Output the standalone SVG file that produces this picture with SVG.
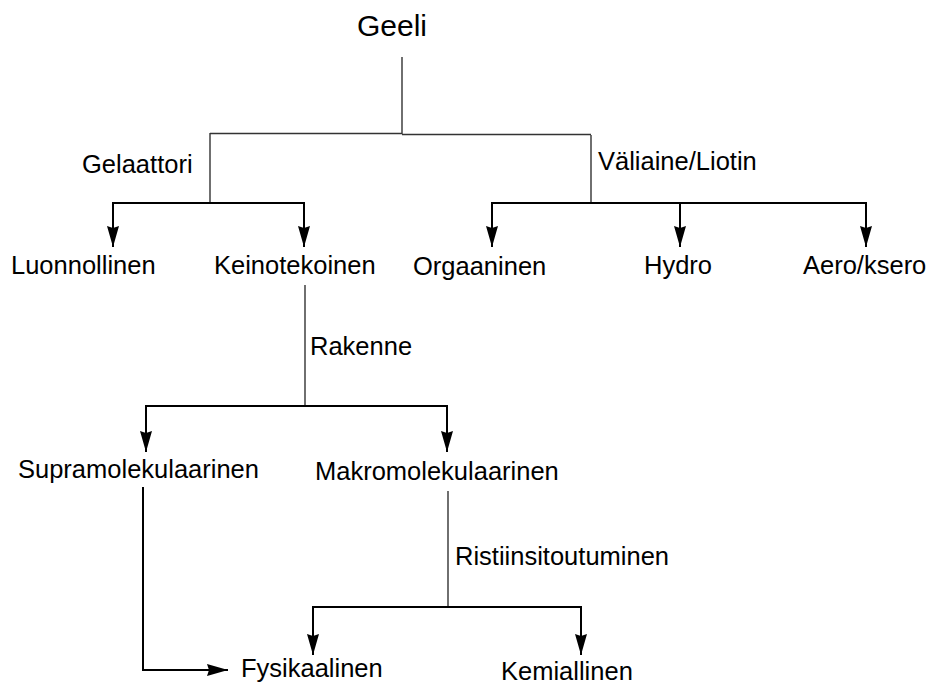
<svg xmlns="http://www.w3.org/2000/svg" width="930" height="687" viewBox="0 0 930 687">
<style>
text { font-family: "Liberation Sans", Arial, sans-serif; font-size: 25.5px; fill: #000; }
.trunk { fill: none; stroke: #333; stroke-width: 1.4; }
.branch { fill: none; stroke: #000; stroke-width: 2; marker-end: url(#arr); }
</style>
<defs>
<marker id="arr" markerUnits="userSpaceOnUse" markerWidth="22" markerHeight="14" refX="21" refY="6" orient="auto">
<path d="M0,0 L21,6 L0,12 L2,6 z" fill="#000"/>
</marker>
</defs>
<rect width="930" height="687" fill="#fff"/>
<g id="connectors">
<path class="trunk" d="M402 57 V134"/>
<path class="trunk" d="M210 133.5 H402"/>
<path class="trunk" d="M402 134.5 H591"/>
<path class="trunk" d="M210 133 V203"/>
<path class="trunk" d="M591 135 V203"/>
<path class="branch" d="M210 203 H113 V247"/>
<path class="branch" d="M210 203 H304 V247"/>
<path class="branch" d="M591 203 H492 V247"/>
<path class="branch" d="M591 203 H680 M680 203 V247"/>
<path class="branch" d="M591 203 H866 V247"/>
<path class="trunk" d="M305 285 V406"/>
<path class="branch" d="M305 406 H146 V452"/>
<path class="branch" d="M305 406 H447 V452"/>
<path class="branch" d="M143 487 V670 H228"/>
<path class="trunk" d="M448 491 V607"/>
<path class="branch" d="M448 607 H313 V655"/>
<path class="branch" d="M448 607 H581 V655"/>
</g>
<g id="edge-labels">
<text x="82" y="173">Gelaattori</text>
<text x="598" y="170">Väliaine/Liotin</text>
<text x="310" y="355">Rakenne</text>
<text x="455" y="565">Ristiinsitoutuminen</text>
</g>
<g id="geeli"><text x="357" y="36" style="font-size:30px">Geeli</text></g>
<g id="luonnollinen"><text x="11" y="274">Luonnollinen</text></g>
<g id="keinotekoinen"><text x="214" y="274">Keinotekoinen</text></g>
<g id="orgaaninen"><text x="413" y="275">Orgaaninen</text></g>
<g id="hydro"><text x="644" y="274">Hydro</text></g>
<g id="aeroksero"><text x="803" y="274">Aero/ksero</text></g>
<g id="supramolekulaarinen"><text x="18" y="478">Supramolekulaarinen</text></g>
<g id="makromolekulaarinen"><text x="315" y="480">Makromolekulaarinen</text></g>
<g id="fysikaalinen"><text x="241" y="677">Fysikaalinen</text></g>
<g id="kemiallinen"><text x="501" y="680">Kemiallinen</text></g>
</svg>
